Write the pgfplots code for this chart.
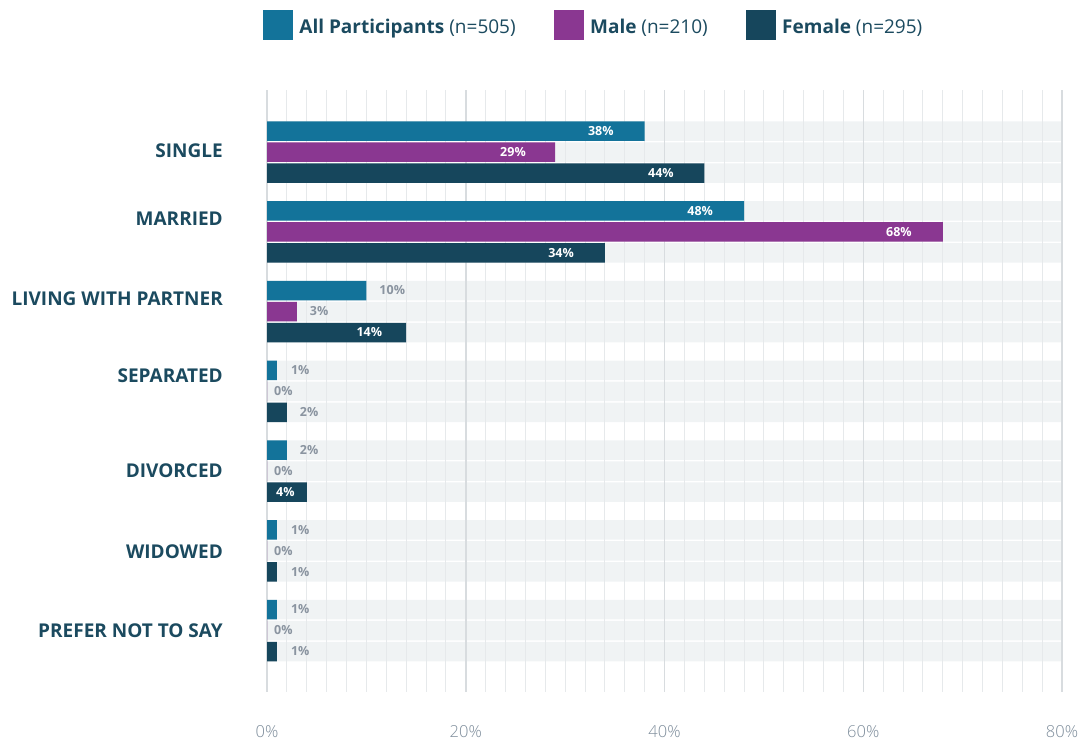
\documentclass[border=0pt]{standalone}
\usepackage{fontspec}
\setmainfont{Open Sans}
\newfontfamily\lightfont{Open Sans Light}
\usepackage{pgfplots}
\pgfplotsset{compat=1.18}
\definecolor{cAll}{HTML}{13739A}
\definecolor{cMale}{HTML}{8A3791}
\definecolor{cFem}{HTML}{16465C}
\definecolor{band}{HTML}{F0F3F4}
\definecolor{gmin}{HTML}{E6E9EB}
\definecolor{gmaj}{HTML}{D8DCDF}
\definecolor{catc}{HTML}{1B4A5F}
\definecolor{tickc}{HTML}{7F8E9C}
\definecolor{lblg}{HTML}{8A94A0}
\begin{document}
\begin{tikzpicture}
\path (0pt,0pt) rectangle (1087pt,-742pt);
\begin{axis}[
  set layers,
  at={(267pt,-90pt)}, anchor=north west,
  scale only axis, width=795pt, height=602pt,
  xmin=0, xmax=80, ymin=90, ymax=692, y dir=reverse,
  axis line style={draw=none},
  xtick={0,20,40,60,80}, minor tick num=9,
  xmajorgrids, xminorgrids,
  major grid style={gmaj, line width=1.5pt},
  minor grid style={gmin, line width=1pt},
  major tick length=0pt, minor tick length=0pt,
  /pgf/number format/assume math mode=true,
  xticklabel={\pgfmathprintnumber{\tick}\%},
  xticklabel style={font=\lightfont\fontsize{16.5}{19}\selectfont, text=tickc, inner sep=0pt, anchor=north, yshift=-33pt},
  ytick={151,218.5,298.5,375.5,470.5,551.5,630.5},
  yticklabels={SINGLE,MARRIED,LIVING WITH PARTNER,SEPARATED,DIVORCED,WIDOWED,PREFER NOT TO SAY},
  yticklabel style={font=\bfseries\fontsize{19}{22}\selectfont, text=catc, inner sep=0pt, anchor=east, xshift=-44pt},
  legend columns=3,
  legend cell align=left,
  legend style={draw=none, fill=none, at={(-0.009,1.136)}, anchor=north west,
    nodes={inner sep=0pt}, font=\fontsize{19}{22}\selectfont, text=catc,
    /tikz/every odd column/.append style={column sep=7pt},
    /tikz/every even column/.append style={column sep=38pt}},
]
\addlegendimage{legend image code/.code={\fill[cAll] (0pt,-12.5pt) rectangle (29pt,16.5pt);}}
\addlegendentry{\textbf{All Participants} (n=505)}
\addlegendimage{legend image code/.code={\fill[cMale] (0pt,-12.5pt) rectangle (29pt,16.5pt);}}
\addlegendentry{\textbf{Male} (n=210)}
\addlegendimage{legend image code/.code={\fill[cFem] (0pt,-12.5pt) rectangle (29pt,16.5pt);}}
\addlegendentry{\textbf{Female} (n=295)}

% background bands
\addplot[xbar, bar width=19.5, fill=band, draw=none, forget plot, on layer=axis background] coordinates {
(80,131) (80,152) (80,173)
(80,210.75) (80,231.75) (80,252.75)
(80,290.5) (80,311.5) (80,332.5)
(80,370.25) (80,391.25) (80,412.25)
(80,450) (80,471) (80,492)
(80,529.75) (80,550.75) (80,571.75)
(80,609.5) (80,630.5) (80,651.5)};

% All participants
\addplot[xbar, bar width=19.5, fill=cAll, draw=none, forget plot] coordinates {
(38,131) (48,210.75) (10,290.5) (1,370.25) (2,450) (1,529.75) (1,609.5)};
% Male
\addplot[xbar, bar width=19.5, fill=cMale, draw=none, forget plot] coordinates {
(29,152) (68,231.75) (3,311.5) (0,391.25) (0,471) (0,550.75) (0,630.5)};
% Female
\addplot[xbar, bar width=19.5, fill=cFem, draw=none, forget plot] coordinates {
(44,173) (34,252.75) (14,332.5) (2,412.25) (4,492) (1,571.75) (1,651.5)};

% white labels inside bars
\addplot[forget plot, only marks, mark=none, nodes near coords, point meta=explicit symbolic,
  every node near coord/.append style={anchor=east, inner sep=0pt, text=white, font=\bfseries\fontsize{12.5}{15}\selectfont}] coordinates {
(34.9,131)[38\%] (26.06,152)[29\%] (40.95,173)[44\%]
(44.9,210.75)[48\%] (64.9,231.75)[68\%] (30.9,252.75)[34\%]
(11.6,332.5)[14\%] (2.8,492)[4\%]};

% grey labels outside bars
\addplot[forget plot, only marks, mark=none, nodes near coords, point meta=explicit symbolic,
  every node near coord/.append style={anchor=west, inner sep=0pt, text=lblg, font=\bfseries\fontsize{12.5}{15}\selectfont}] coordinates {
(11.3,290.5)[10\%] (4.3,311.5)[3\%]
(2.4,370.25)[1\%] (0.7,391.25)[0\%] (3.3,412.25)[2\%]
(3.3,450)[2\%] (0.7,471)[0\%]
(2.4,529.75)[1\%] (0.7,550.75)[0\%] (2.4,571.75)[1\%]
(2.4,609.5)[1\%] (0.7,630.5)[0\%] (2.4,651.5)[1\%]};
\end{axis}
\end{tikzpicture}
\end{document}
